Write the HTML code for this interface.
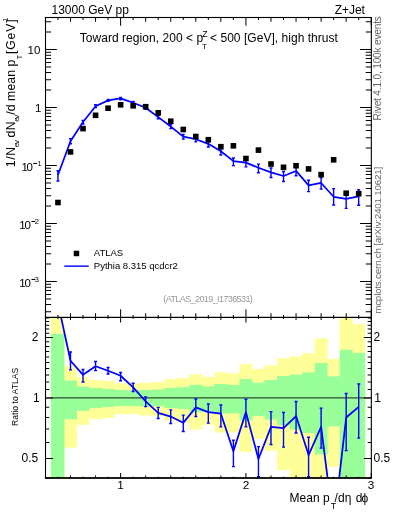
<!DOCTYPE html><html><head><meta charset="utf-8"><style>html,body{margin:0;padding:0;background:#fff;width:393px;height:512px;overflow:hidden}svg{display:block;will-change:transform}text{font-family:"Liberation Sans",sans-serif}</style></head><body>
<svg width="393" height="512" viewBox="0 0 393 512"><g transform="scale(1.0001)">
<rect width="393" height="512" fill="#fff"/>
<g>
<rect x="50.90" y="317.40" width="13.52" height="160.60" fill="#ffff99"/>
<rect x="64.01" y="366.20" width="12.93" height="81.50" fill="#ffff99"/>
<rect x="76.54" y="377.00" width="12.93" height="47.80" fill="#ffff99"/>
<rect x="89.07" y="379.90" width="12.93" height="39.20" fill="#ffff99"/>
<rect x="101.60" y="381.00" width="12.93" height="37.00" fill="#ffff99"/>
<rect x="114.13" y="383.20" width="12.93" height="30.80" fill="#ffff99"/>
<rect x="126.66" y="383.20" width="12.93" height="30.80" fill="#ffff99"/>
<rect x="139.19" y="382.90" width="12.93" height="32.60" fill="#ffff99"/>
<rect x="151.72" y="381.90" width="12.93" height="34.10" fill="#ffff99"/>
<rect x="164.25" y="379.00" width="12.93" height="41.60" fill="#ffff99"/>
<rect x="176.78" y="378.00" width="12.93" height="44.50" fill="#ffff99"/>
<rect x="189.31" y="374.20" width="12.93" height="55.20" fill="#ffff99"/>
<rect x="201.84" y="376.90" width="12.93" height="47.90" fill="#ffff99"/>
<rect x="214.38" y="372.20" width="12.93" height="60.30" fill="#ffff99"/>
<rect x="226.90" y="373.20" width="12.93" height="59.00" fill="#ffff99"/>
<rect x="239.44" y="364.00" width="12.93" height="87.70" fill="#ffff99"/>
<rect x="251.97" y="368.90" width="12.93" height="70.00" fill="#ffff99"/>
<rect x="264.50" y="365.30" width="12.93" height="85.50" fill="#ffff99"/>
<rect x="277.03" y="358.20" width="12.93" height="111.70" fill="#ffff99"/>
<rect x="289.56" y="356.40" width="12.93" height="121.60" fill="#ffff99"/>
<rect x="302.09" y="353.20" width="12.93" height="124.80" fill="#ffff99"/>
<rect x="314.62" y="338.20" width="12.93" height="139.80" fill="#ffff99"/>
<rect x="327.15" y="359.00" width="12.93" height="107.90" fill="#ffff99"/>
<rect x="339.68" y="317.40" width="12.93" height="160.60" fill="#ffff99"/>
<rect x="352.20" y="324.10" width="12.93" height="153.90" fill="#ffff99"/>
<rect x="50.90" y="333.80" width="13.52" height="144.20" fill="#99ff99"/>
<rect x="64.01" y="380.50" width="12.93" height="38.60" fill="#99ff99"/>
<rect x="76.54" y="386.50" width="12.93" height="24.30" fill="#99ff99"/>
<rect x="89.07" y="388.00" width="12.93" height="19.90" fill="#99ff99"/>
<rect x="101.60" y="388.80" width="12.93" height="18.20" fill="#99ff99"/>
<rect x="114.13" y="389.80" width="12.93" height="16.30" fill="#99ff99"/>
<rect x="126.66" y="390.20" width="12.93" height="15.90" fill="#99ff99"/>
<rect x="139.19" y="390.00" width="12.93" height="16.50" fill="#99ff99"/>
<rect x="151.72" y="389.50" width="12.93" height="16.60" fill="#99ff99"/>
<rect x="164.25" y="387.90" width="12.93" height="20.00" fill="#99ff99"/>
<rect x="176.78" y="387.10" width="12.93" height="21.80" fill="#99ff99"/>
<rect x="189.31" y="384.80" width="12.93" height="27.40" fill="#99ff99"/>
<rect x="201.84" y="386.40" width="12.93" height="25.50" fill="#99ff99"/>
<rect x="214.38" y="383.90" width="12.93" height="29.50" fill="#99ff99"/>
<rect x="226.90" y="384.80" width="12.93" height="28.60" fill="#99ff99"/>
<rect x="239.44" y="379.00" width="12.93" height="41.50" fill="#99ff99"/>
<rect x="251.97" y="382.60" width="12.93" height="33.40" fill="#99ff99"/>
<rect x="264.50" y="379.90" width="12.93" height="39.70" fill="#99ff99"/>
<rect x="277.03" y="376.00" width="12.93" height="49.00" fill="#99ff99"/>
<rect x="289.56" y="374.60" width="12.93" height="54.80" fill="#99ff99"/>
<rect x="302.09" y="372.40" width="12.93" height="60.60" fill="#99ff99"/>
<rect x="314.62" y="363.00" width="12.93" height="91.40" fill="#99ff99"/>
<rect x="327.15" y="376.30" width="12.93" height="50.00" fill="#99ff99"/>
<rect x="339.68" y="349.70" width="12.93" height="128.30" fill="#99ff99"/>
<rect x="352.20" y="352.80" width="12.93" height="125.20" fill="#99ff99"/>
</g>
<line x1="45.5" y1="397.9" x2="371.3" y2="397.9" stroke="#000" stroke-opacity="0.7" stroke-width="1.15"/>
<defs><clipPath id="cm"><rect x="45.5" y="17.5" width="325.8" height="299.9"/></clipPath><clipPath id="cr"><rect x="45.5" y="317.4" width="325.8" height="160.55"/></clipPath></defs>
<g clip-path="url(#cm)"><polyline points="57.95,175.00 70.48,141.17 83.01,121.94 95.54,106.16 108.07,100.36 120.60,98.40 133.13,102.74 145.66,107.68 158.19,117.10 170.72,126.56 183.25,136.68 195.78,139.21 208.31,143.80 220.84,151.26 233.37,161.17 245.90,162.60 258.43,167.69 270.96,172.36 283.49,175.98 296.02,170.92 308.55,185.37 321.08,182.96 333.61,196.75 346.14,198.85 358.67,196.30" fill="none" stroke="#0000ff" stroke-width="1.75" stroke-linejoin="round"/>
<path d="M57.95 170.70V181.00M56.45 170.70h3M56.45 181.00h3" stroke="#0000ff" stroke-width="1.4" fill="none"/>
<path d="M70.48 138.63V143.80M68.98 138.63h3M68.98 143.80h3" stroke="#0000ff" stroke-width="1.4" fill="none"/>
<path d="M83.01 120.41V124.01M81.51 120.41h3M81.51 124.01h3" stroke="#0000ff" stroke-width="1.4" fill="none"/>
<path d="M95.54 104.80V107.43M94.04 104.80h3M94.04 107.43h3" stroke="#0000ff" stroke-width="1.4" fill="none"/>
<path d="M108.07 99.40V101.31M106.57 99.40h3M106.57 101.31h3" stroke="#0000ff" stroke-width="1.4" fill="none"/>
<path d="M120.60 97.45V99.84M119.10 97.45h3M119.10 99.84h3" stroke="#0000ff" stroke-width="1.4" fill="none"/>
<path d="M133.13 101.56V103.95M131.63 101.56h3M131.63 103.95h3" stroke="#0000ff" stroke-width="1.4" fill="none"/>
<path d="M145.66 106.44V109.21M144.16 106.44h3M144.16 109.21h3" stroke="#0000ff" stroke-width="1.4" fill="none"/>
<path d="M158.19 115.51V118.74M156.69 115.51h3M156.69 118.74h3" stroke="#0000ff" stroke-width="1.4" fill="none"/>
<path d="M170.72 124.63V128.58M169.22 124.63h3M169.22 128.58h3" stroke="#0000ff" stroke-width="1.4" fill="none"/>
<path d="M183.25 134.46V139.16M181.75 134.46h3M181.75 139.16h3" stroke="#0000ff" stroke-width="1.4" fill="none"/>
<path d="M195.78 136.82V141.86M194.28 136.82h3M194.28 141.86h3" stroke="#0000ff" stroke-width="1.4" fill="none"/>
<path d="M208.31 141.43V146.97M206.81 141.43h3M206.81 146.97h3" stroke="#0000ff" stroke-width="1.4" fill="none"/>
<path d="M220.84 148.75V155.04M219.34 148.75h3M219.34 155.04h3" stroke="#0000ff" stroke-width="1.4" fill="none"/>
<path d="M233.37 158.00V165.61M231.87 158.00h3M231.87 165.61h3" stroke="#0000ff" stroke-width="1.4" fill="none"/>
<path d="M245.90 158.87V166.84M244.40 158.87h3M244.40 166.84h3" stroke="#0000ff" stroke-width="1.4" fill="none"/>
<path d="M258.43 164.15V172.80M256.93 164.15h3M256.93 172.80h3" stroke="#0000ff" stroke-width="1.4" fill="none"/>
<path d="M270.96 167.95V177.41M269.46 167.95h3M269.46 177.41h3" stroke="#0000ff" stroke-width="1.4" fill="none"/>
<path d="M283.49 171.48V181.49M281.99 171.48h3M281.99 181.49h3" stroke="#0000ff" stroke-width="1.4" fill="none"/>
<path d="M296.02 166.74V175.79M294.52 166.74h3M294.52 175.79h3" stroke="#0000ff" stroke-width="1.4" fill="none"/>
<path d="M308.55 180.23V191.60M307.05 180.23h3M307.05 191.60h3" stroke="#0000ff" stroke-width="1.4" fill="none"/>
<path d="M321.08 177.54V189.08M319.58 177.54h3M319.58 189.08h3" stroke="#0000ff" stroke-width="1.4" fill="none"/>
<path d="M333.61 188.65V205.05M332.11 188.65h3M332.11 205.05h3" stroke="#0000ff" stroke-width="1.4" fill="none"/>
<path d="M346.14 191.90V208.40M344.64 191.90h3M344.64 208.40h3" stroke="#0000ff" stroke-width="1.4" fill="none"/>
<path d="M358.67 189.69V205.29M357.17 189.69h3M357.17 205.29h3" stroke="#0000ff" stroke-width="1.4" fill="none"/>
<rect x="55.15" y="199.70" width="5.6" height="5.6" fill="#000"/>
<rect x="67.68" y="149.10" width="5.6" height="5.6" fill="#000"/>
<rect x="80.21" y="125.80" width="5.6" height="5.6" fill="#000"/>
<rect x="92.74" y="112.50" width="5.6" height="5.6" fill="#000"/>
<rect x="105.27" y="105.40" width="5.6" height="5.6" fill="#000"/>
<rect x="117.80" y="102.00" width="5.6" height="5.6" fill="#000"/>
<rect x="130.33" y="103.00" width="5.6" height="5.6" fill="#000"/>
<rect x="142.86" y="103.90" width="5.6" height="5.6" fill="#000"/>
<rect x="155.39" y="110.00" width="5.6" height="5.6" fill="#000"/>
<rect x="167.92" y="118.40" width="5.6" height="5.6" fill="#000"/>
<rect x="180.45" y="126.70" width="5.6" height="5.6" fill="#000"/>
<rect x="192.98" y="133.70" width="5.6" height="5.6" fill="#000"/>
<rect x="205.51" y="136.90" width="5.6" height="5.6" fill="#000"/>
<rect x="218.04" y="143.90" width="5.6" height="5.6" fill="#000"/>
<rect x="230.57" y="143.00" width="5.6" height="5.6" fill="#000"/>
<rect x="243.10" y="155.70" width="5.6" height="5.6" fill="#000"/>
<rect x="255.63" y="147.30" width="5.6" height="5.6" fill="#000"/>
<rect x="268.16" y="161.20" width="5.6" height="5.6" fill="#000"/>
<rect x="280.69" y="164.50" width="5.6" height="5.6" fill="#000"/>
<rect x="293.22" y="162.90" width="5.6" height="5.6" fill="#000"/>
<rect x="305.75" y="166.10" width="5.6" height="5.6" fill="#000"/>
<rect x="318.28" y="171.80" width="5.6" height="5.6" fill="#000"/>
<rect x="330.81" y="157.00" width="5.6" height="5.6" fill="#000"/>
<rect x="343.34" y="190.40" width="5.6" height="5.6" fill="#000"/>
<rect x="355.87" y="190.90" width="5.6" height="5.6" fill="#000"/>
</g>
<g clip-path="url(#cr)"><polyline points="57.95,303.00 70.48,360.70 83.01,374.80 95.54,366.20 108.07,370.70 120.60,375.70 133.13,387.30 145.66,401.30 158.19,412.80 170.72,416.50 183.25,422.80 195.78,407.30 208.31,412.10 220.84,413.70 233.37,451.20 245.90,412.10 258.43,458.90 270.96,426.90 283.49,428.00 296.02,416.00 308.55,455.00 321.08,426.90 333.61,526.00 346.14,417.50 358.67,406.90" fill="none" stroke="#0000ff" stroke-width="1.75" stroke-linejoin="round"/>
<path d="M70.48 351.90V369.80M68.98 351.90h3M68.98 369.80h3" stroke="#0000ff" stroke-width="1.4" fill="none"/>
<path d="M83.01 369.50V382.00M81.51 369.50h3M81.51 382.00h3" stroke="#0000ff" stroke-width="1.4" fill="none"/>
<path d="M95.54 361.50V370.60M94.04 361.50h3M94.04 370.60h3" stroke="#0000ff" stroke-width="1.4" fill="none"/>
<path d="M108.07 367.40V374.00M106.57 367.40h3M106.57 374.00h3" stroke="#0000ff" stroke-width="1.4" fill="none"/>
<path d="M120.60 372.40V380.70M119.10 372.40h3M119.10 380.70h3" stroke="#0000ff" stroke-width="1.4" fill="none"/>
<path d="M133.13 383.20V391.50M131.63 383.20h3M131.63 391.50h3" stroke="#0000ff" stroke-width="1.4" fill="none"/>
<path d="M145.66 397.00V406.60M144.16 397.00h3M144.16 406.60h3" stroke="#0000ff" stroke-width="1.4" fill="none"/>
<path d="M158.19 407.30V418.50M156.69 407.30h3M156.69 418.50h3" stroke="#0000ff" stroke-width="1.4" fill="none"/>
<path d="M170.72 409.80V423.50M169.22 409.80h3M169.22 423.50h3" stroke="#0000ff" stroke-width="1.4" fill="none"/>
<path d="M183.25 415.10V431.40M181.75 415.10h3M181.75 431.40h3" stroke="#0000ff" stroke-width="1.4" fill="none"/>
<path d="M195.78 399.00V416.50M194.28 399.00h3M194.28 416.50h3" stroke="#0000ff" stroke-width="1.4" fill="none"/>
<path d="M208.31 403.90V423.10M206.81 403.90h3M206.81 423.10h3" stroke="#0000ff" stroke-width="1.4" fill="none"/>
<path d="M220.84 405.00V426.80M219.34 405.00h3M219.34 426.80h3" stroke="#0000ff" stroke-width="1.4" fill="none"/>
<path d="M233.37 440.20V466.60M231.87 440.20h3M231.87 466.60h3" stroke="#0000ff" stroke-width="1.4" fill="none"/>
<path d="M245.90 399.20V426.80M244.40 399.20h3M244.40 426.80h3" stroke="#0000ff" stroke-width="1.4" fill="none"/>
<path d="M258.43 446.60V476.60M256.93 446.60h3M256.93 476.60h3" stroke="#0000ff" stroke-width="1.4" fill="none"/>
<path d="M270.96 411.60V444.40M269.46 411.60h3M269.46 444.40h3" stroke="#0000ff" stroke-width="1.4" fill="none"/>
<path d="M283.49 412.40V447.10M281.99 412.40h3M281.99 447.10h3" stroke="#0000ff" stroke-width="1.4" fill="none"/>
<path d="M296.02 401.50V432.90M294.52 401.50h3M294.52 432.90h3" stroke="#0000ff" stroke-width="1.4" fill="none"/>
<path d="M308.55 437.20V476.60M307.05 437.20h3M307.05 476.60h3" stroke="#0000ff" stroke-width="1.4" fill="none"/>
<path d="M321.08 408.10V448.10M319.58 408.10h3M319.58 448.10h3" stroke="#0000ff" stroke-width="1.4" fill="none"/>
<path d="M346.14 393.40V450.60M344.64 393.40h3M344.64 450.60h3" stroke="#0000ff" stroke-width="1.4" fill="none"/>
<path d="M358.67 384.00V438.10M357.17 384.00h3M357.17 438.10h3" stroke="#0000ff" stroke-width="1.4" fill="none"/>
</g>
<rect x="45.5" y="17.5" width="325.8" height="299.9" fill="none" stroke="#000" stroke-width="1.1"/>
<rect x="45.5" y="317.4" width="325.8" height="160.55" fill="none" stroke="#000" stroke-width="1.1"/>
<line x1="45.0" y1="477.95" x2="371.8" y2="477.95" stroke="#000" stroke-width="1.7"/>
<path d="M45.42 17.5v4.2M45.42 317.4v-4.2M45.42 317.4v2.5M45.42 477.95v-2.5M57.95 17.5v2.4M57.95 317.4v-2.4M57.95 317.4v1.3M57.95 477.95v-1.3M70.48 17.5v4.2M70.48 317.4v-4.2M70.48 317.4v2.5M70.48 477.95v-2.5M83.01 17.5v2.4M83.01 317.4v-2.4M83.01 317.4v1.3M83.01 477.95v-1.3M95.54 17.5v4.2M95.54 317.4v-4.2M95.54 317.4v2.5M95.54 477.95v-2.5M108.07 17.5v2.4M108.07 317.4v-2.4M108.07 317.4v1.3M108.07 477.95v-1.3M120.60 17.5v8.2M120.60 317.4v-8.2M120.60 317.4v5.0M120.60 477.95v-5.0M133.13 17.5v2.4M133.13 317.4v-2.4M133.13 317.4v1.3M133.13 477.95v-1.3M145.66 17.5v4.2M145.66 317.4v-4.2M145.66 317.4v2.5M145.66 477.95v-2.5M158.19 17.5v2.4M158.19 317.4v-2.4M158.19 317.4v1.3M158.19 477.95v-1.3M170.72 17.5v4.2M170.72 317.4v-4.2M170.72 317.4v2.5M170.72 477.95v-2.5M183.25 17.5v2.4M183.25 317.4v-2.4M183.25 317.4v1.3M183.25 477.95v-1.3M195.78 17.5v4.2M195.78 317.4v-4.2M195.78 317.4v2.5M195.78 477.95v-2.5M208.31 17.5v2.4M208.31 317.4v-2.4M208.31 317.4v1.3M208.31 477.95v-1.3M220.84 17.5v4.2M220.84 317.4v-4.2M220.84 317.4v2.5M220.84 477.95v-2.5M233.37 17.5v2.4M233.37 317.4v-2.4M233.37 317.4v1.3M233.37 477.95v-1.3M245.90 17.5v8.2M245.90 317.4v-8.2M245.90 317.4v5.0M245.90 477.95v-5.0M258.43 17.5v2.4M258.43 317.4v-2.4M258.43 317.4v1.3M258.43 477.95v-1.3M270.96 17.5v4.2M270.96 317.4v-4.2M270.96 317.4v2.5M270.96 477.95v-2.5M283.49 17.5v2.4M283.49 317.4v-2.4M283.49 317.4v1.3M283.49 477.95v-1.3M296.02 17.5v4.2M296.02 317.4v-4.2M296.02 317.4v2.5M296.02 477.95v-2.5M308.55 17.5v2.4M308.55 317.4v-2.4M308.55 317.4v1.3M308.55 477.95v-1.3M321.08 17.5v4.2M321.08 317.4v-4.2M321.08 317.4v2.5M321.08 477.95v-2.5M333.61 17.5v2.4M333.61 317.4v-2.4M333.61 317.4v1.3M333.61 477.95v-1.3M346.14 17.5v4.2M346.14 317.4v-4.2M346.14 317.4v2.5M346.14 477.95v-2.5M358.67 17.5v2.4M358.67 317.4v-2.4M358.67 317.4v1.3M358.67 477.95v-1.3M371.20 17.5v8.2M371.20 317.4v-8.2M371.20 317.4v5.0M371.20 477.95v-5.0M45.5 311.83h5.6M371.3 311.83h-5.6M45.5 304.58h5.6M371.3 304.58h-5.6M45.5 298.96h5.6M371.3 298.96h-5.6M45.5 294.37h5.6M371.3 294.37h-5.6M45.5 290.48h5.6M371.3 290.48h-5.6M45.5 287.12h5.6M371.3 287.12h-5.6M45.5 284.15h5.6M371.3 284.15h-5.6M45.5 281.50h11.3M371.3 281.50h-11.3M45.5 264.04h5.6M371.3 264.04h-5.6M45.5 253.83h5.6M371.3 253.83h-5.6M45.5 246.58h5.6M371.3 246.58h-5.6M45.5 240.96h5.6M371.3 240.96h-5.6M45.5 236.37h5.6M371.3 236.37h-5.6M45.5 232.48h5.6M371.3 232.48h-5.6M45.5 229.12h5.6M371.3 229.12h-5.6M45.5 226.15h5.6M371.3 226.15h-5.6M45.5 223.50h11.3M371.3 223.50h-11.3M45.5 206.04h5.6M371.3 206.04h-5.6M45.5 195.83h5.6M371.3 195.83h-5.6M45.5 188.58h5.6M371.3 188.58h-5.6M45.5 182.96h5.6M371.3 182.96h-5.6M45.5 178.37h5.6M371.3 178.37h-5.6M45.5 174.48h5.6M371.3 174.48h-5.6M45.5 171.12h5.6M371.3 171.12h-5.6M45.5 168.15h5.6M371.3 168.15h-5.6M45.5 165.50h11.3M371.3 165.50h-11.3M45.5 148.04h5.6M371.3 148.04h-5.6M45.5 137.83h5.6M371.3 137.83h-5.6M45.5 130.58h5.6M371.3 130.58h-5.6M45.5 124.96h5.6M371.3 124.96h-5.6M45.5 120.37h5.6M371.3 120.37h-5.6M45.5 116.48h5.6M371.3 116.48h-5.6M45.5 113.12h5.6M371.3 113.12h-5.6M45.5 110.15h5.6M371.3 110.15h-5.6M45.5 107.50h11.3M371.3 107.50h-11.3M45.5 90.04h5.6M371.3 90.04h-5.6M45.5 79.83h5.6M371.3 79.83h-5.6M45.5 72.58h5.6M371.3 72.58h-5.6M45.5 66.96h5.6M371.3 66.96h-5.6M45.5 62.37h5.6M371.3 62.37h-5.6M45.5 58.48h5.6M371.3 58.48h-5.6M45.5 55.12h5.6M371.3 55.12h-5.6M45.5 52.15h5.6M371.3 52.15h-5.6M45.5 49.50h11.3M371.3 49.50h-11.3M45.5 32.04h5.6M371.3 32.04h-5.6M45.5 21.83h5.6M371.3 21.83h-5.6M45.5 477.93h3.7M371.3 477.93h-3.7M45.5 458.44h7.4M371.3 458.44h-7.4M45.5 442.51h3.7M371.3 442.51h-3.7M45.5 429.05h3.7M371.3 429.05h-3.7M45.5 417.39h3.7M371.3 417.39h-3.7M45.5 407.10h3.7M371.3 407.10h-3.7M45.5 397.90h7.4M371.3 397.90h-7.4M45.5 389.58h3.7M371.3 389.58h-3.7M45.5 381.98h3.7M371.3 381.98h-3.7M45.5 374.99h3.7M371.3 374.99h-3.7M45.5 368.51h3.7M371.3 368.51h-3.7M45.5 362.49h3.7M371.3 362.49h-3.7M45.5 356.85h3.7M371.3 356.85h-3.7M45.5 351.56h3.7M371.3 351.56h-3.7M45.5 346.56h3.7M371.3 346.56h-3.7M45.5 341.84h3.7M371.3 341.84h-3.7M45.5 337.36h7.4M371.3 337.36h-7.4M45.5 333.10h3.7M371.3 333.10h-3.7M45.5 329.04h3.7M371.3 329.04h-3.7M45.5 325.16h3.7M371.3 325.16h-3.7M45.5 321.44h3.7M371.3 321.44h-3.7M45.5 317.87h3.7M371.3 317.87h-3.7" stroke="#000" stroke-width="1.0" fill="none"/>
<text x="51.5" y="14" font-size="12">13000 GeV pp</text>
<text x="334.8" y="13.8" font-size="12" textLength="29.97" lengthAdjust="spacing">Z+Jet</text>
<text x="79.7" y="41.7" font-size="12" textLength="123.4" lengthAdjust="spacing">Toward region, 200 &lt; p</text>
<text x="202.2" y="36.6" font-size="8.6">Z</text><text x="202.0" y="48.7" font-size="8">T</text>
<text x="210.0" y="41.7" font-size="12" textLength="127.9" lengthAdjust="spacing">&lt; 500 [GeV], high thrust</text>
<text x="40.4" y="54.2" font-size="11.5" text-anchor="end">10</text>
<text x="41.3" y="112.0" font-size="11.5" text-anchor="end">1</text>
<text x="21.5" y="171.00" font-size="11.5" letter-spacing="-1.3">10</text><rect x="33.3" y="162.90" width="3.8" height="1.1" fill="#000"/><text x="37.6" y="166.10" font-size="7.5">1</text>
<text x="19.3" y="229.00" font-size="11.5" letter-spacing="-1.3">10</text><rect x="31.5" y="220.90" width="3.8" height="1.1" fill="#000"/><text x="34.8" y="224.10" font-size="7.5">2</text>
<text x="19.3" y="287.00" font-size="11.5" letter-spacing="-1.3">10</text><rect x="31.5" y="278.90" width="3.8" height="1.1" fill="#000"/><text x="34.8" y="282.10" font-size="7.5">3</text>
<text x="31.75" y="341.0" font-size="12">2</text>
<text x="33.06" y="401.8" font-size="12">1</text>
<text x="21.5" y="462.1" font-size="12">0.5</text>
<text x="373.4" y="341.0" font-size="12">2</text>
<text x="374.2" y="402.0" font-size="12">1</text>
<text x="373.5" y="462.1" font-size="12">0.5</text>
<text x="120.55" y="489.1" font-size="11.8" text-anchor="middle">1</text>
<text x="246.00" y="489.1" font-size="11.8" text-anchor="middle">2</text>
<text x="370.90" y="489.1" font-size="11.8" text-anchor="middle">3</text>
<g transform="translate(0,501.5) scale(1,1.08)"><text x="289.6" y="0" font-size="12">Mean p</text><text x="330.6" y="7.0" font-size="8.8">T</text><text x="334.6" y="0" font-size="12">/dη</text><text x="355.8" y="0" font-size="12" letter-spacing="-0.9">dϕ</text></g>
<rect x="73.7" y="250.7" width="5.5" height="5.5" fill="#000"/>
<line x1="64.3" y1="266.1" x2="88.7" y2="266.1" stroke="#0000ff" stroke-width="1.4"/>
<text x="93.8" y="256.2" font-size="9.5">ATLAS</text>
<text x="93.8" y="268.9" font-size="9.5">Pythia 8.315 qcdcr2</text>
<text x="163.3" y="302.3" font-size="9" fill="#999" textLength="89.5" lengthAdjust="spacing">(ATLAS_2019_I1736531)</text>
<g transform="translate(15.0,166.7) rotate(-90)" font-size="12.2"><text x="-0.63" y="0" textLength="20.53" lengthAdjust="spacing">1/N</text><text x="19.46" y="4.0" font-size="8" textLength="7.27" lengthAdjust="spacing">ev</text><text x="29.19" y="0" textLength="16.11" lengthAdjust="spacing">dN</text><text x="45.06" y="4.0" font-size="8" textLength="6.87" lengthAdjust="spacing">ev</text><text x="51.9" y="0" textLength="55.21" lengthAdjust="spacing">/d mean p</text><text x="107.54" y="6.7" font-size="7">T</text><text x="112.7" y="0" textLength="34.57" lengthAdjust="spacing">[GeV]</text><text x="145.27" y="-6.8" font-size="7">1</text></g>
<g transform="translate(18.0,425.9) rotate(-90)"><text x="0" y="0" font-size="8.6">Ratio to ATLAS</text></g>
<g transform="translate(380.8,120.4) rotate(-90)"><text x="0" y="0" font-size="10.1" fill="#666" textLength="104.3" lengthAdjust="spacing">Rivet 4.1.0, 100k events</text></g>
<g transform="translate(380.8,313.8) rotate(-90)"><text x="0" y="0" font-size="9.9" fill="#666" textLength="147.1" lengthAdjust="spacing">mcplots.cern.ch [arXiv:2401.10621]</text></g>
</g></svg></body></html>
